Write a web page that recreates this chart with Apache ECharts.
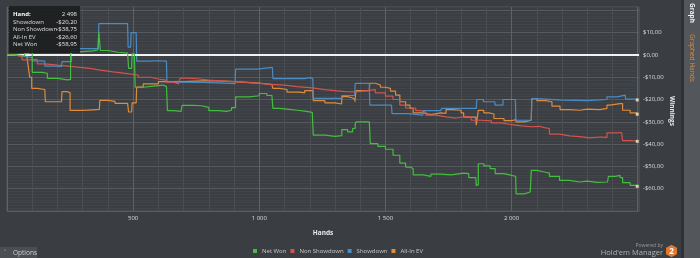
<!DOCTYPE html>
<html><head><meta charset="utf-8">
<script src="https://cdn.jsdelivr.net/npm/echarts@6/dist/echarts.min.js"></script>
<style>html,body{margin:0;padding:0;background:#3a3d41;}#c{width:700px;height:258px;}</style>
</head><body><div id="c"></div>
<script>
const seriesNames = ['Net Won', 'Non Showdown', 'Showdown', 'All-In EV'];
const xTickLabels = [500, 1000, 1500, 2000];
const yTickLabels = [10, 0, -10, -20, -30, -40, -50, -60];
const totalHands = 2498;

const netWonHands = [0,40,70,88,92,100,140,160,200,240,252,300,340,360,364,370,400,440,478,482,494,496,505,508,540,580,620,632,636,660,690,694,740,770,800,840,870,890,906,960,1000,1030,1050,1054,1080,1110,1150,1180,1210,1214,1260,1300,1327,1350,1370,1380,1384,1436,1440,1470,1500,1530,1557,1580,1600,1610,1650,1680,1720,1760,1810,1830,1858,1860,1865,1868,1890,1915,1935,1970,2000,2016,2018,2050,2074,2078,2100,2130,2150,2190,2230,2270,2300,2340,2380,2384,2410,2430,2440,2470,2498];
const netWonValues = [0,-0.5,0.8,0.5,6.5,-7.8,-8.2,-10.5,-11.2,-11.0,1.5,1.8,2.2,2.5,10.2,2.0,1.2,0.8,0.5,-6.0,-6.5,0.5,0.3,-14.5,-14.0,-13.5,-14.2,-14.0,-25.0,-25.3,-24.8,-22.6,-22.8,-23.5,-25.0,-25.3,-24.8,-23.6,-18.8,-18.3,-17.3,-18.2,-19.0,-24.0,-24.3,-24.8,-25.2,-25.8,-26.6,-36.0,-36.5,-36.2,-33.5,-34.5,-33.0,-31.0,-30.0,-30.2,-39.8,-41.0,-42.3,-45.0,-48.5,-50.3,-51.0,-53.8,-54.5,-53.5,-53.8,-53.0,-53.2,-55.0,-55.2,-58.5,-58.3,-48.8,-49.8,-51.0,-53.2,-54.0,-54.4,-54.5,-62.3,-61.5,-61.0,-51.8,-52.5,-53.0,-54.5,-56.3,-57.0,-56.6,-57.2,-57.0,-56.8,-54.5,-54.0,-55.0,-57.3,-58.5,-58.95];

const nonShowdownHands = [0,30,60,90,120,150,200,240,280,330,370,420,470,520,570,600,630,660,680,686,720,764,800,840,900,960,1000,1050,1100,1150,1210,1260,1300,1340,1380,1430,1460,1500,1530,1557,1580,1620,1640,1660,1700,1740,1780,1820,1840,1880,1920,1960,2000,2040,2080,2112,2130,2150,2190,2230,2270,2310,2350,2378,2420,2436,2440,2470,2498];
const nonShowdownValues = [0,-0.8,-2.2,-2.0,-4.0,-4.6,-5.0,-5.5,-6.0,-6.8,-7.6,-8.3,-9.0,-10.0,-10.8,-11.3,-12.2,-13.0,-13.5,-10.4,-10.8,-11.3,-11.6,-12.0,-12.4,-12.8,-13.2,-13.5,-14.2,-14.8,-15.6,-16.0,-16.5,-16.6,-16.0,-15.6,-17.0,-18.5,-20.0,-22.5,-23.8,-25.0,-25.7,-27.0,-27.8,-28.3,-27.6,-27.8,-29.3,-29.6,-30.5,-31.3,-31.8,-32.2,-32.0,-32.6,-33.0,-35.5,-36.3,-36.6,-37.2,-36.8,-37.0,-35.0,-34.8,-35.2,-38.4,-38.6,-38.75];

const showdownHands = [0,40,70,88,100,140,150,200,216,218,255,257,362,364,478,480,490,492,512,514,560,600,632,634,700,780,860,904,906,960,990,1052,1054,1160,1180,1200,1212,1214,1325,1327,1378,1380,1436,1438,1524,1526,1557,1590,1648,1650,1720,1722,1860,1862,1888,1934,1966,2015,2017,2078,2080,2100,2200,2300,2350,2378,2420,2424,2450,2452,2498];
const showdownValues = [0,-0.5,-1.0,-1.2,-2.7,-2.9,-5.0,-5.3,-5.2,-3.0,-3.0,2.8,2.8,14.0,14.0,3.5,3.5,10.0,10.0,-2.8,-2.6,-2.8,-2.8,-12.2,-12.3,-12.6,-12.9,-12.9,-6.4,-6.4,-5.6,-5.6,-10.6,-10.6,-10.2,-10.6,-10.6,-19.5,-19.5,-18.2,-18.2,-12.8,-12.8,-22.5,-22.5,-26.3,-26.3,-27.0,-27.0,-25.0,-25.0,-24.0,-24.0,-20.0,-21.0,-22.5,-20.0,-20.0,-29.3,-29.3,-19.6,-20.3,-20.5,-20.2,-20.0,-18.8,-18.8,-18.0,-18.0,-19.8,-20.2];

const allInEVHands = [0,40,78,84,90,98,120,150,152,200,216,218,240,250,300,340,366,368,400,428,478,482,494,496,512,514,540,600,700,800,900,1000,1050,1054,1080,1110,1160,1180,1212,1214,1260,1300,1326,1328,1350,1370,1379,1383,1436,1438,1460,1480,1500,1520,1540,1557,1580,1597,1610,1650,1680,1720,1740,1765,1800,1810,1858,1860,1866,1868,1890,1910,1930,1970,2000,2016,2018,2050,2078,2080,2100,2136,2160,2192,2230,2270,2300,2350,2378,2390,2430,2440,2470,2498];
const allInEVValues = [0,-0.3,-1.0,-5.0,-10.0,-15.0,-15.5,-16.2,-21.0,-21.0,-20.8,-16.5,-17.0,-24.9,-24.6,-24.4,-24.5,-20.4,-20.8,-21.7,-21.7,-25.6,-25.6,-21.5,-21.5,-14.4,-13.0,-12.0,-11.5,-12.0,-12.6,-13.3,-13.6,-15.0,-15.5,-16.7,-17.0,-16.0,-16.2,-20.5,-21.5,-22.0,-21.8,-18.7,-19.3,-20.0,-21.0,-16.0,-16.0,-12.7,-13.5,-14.5,-15.0,-16.2,-18.0,-21.0,-22.5,-24.0,-26.0,-26.8,-26.0,-26.2,-24.5,-24.8,-26.0,-27.9,-27.9,-31.5,-31.5,-24.9,-26.0,-26.5,-28.5,-29.5,-29.0,-29.2,-30.0,-29.3,-30.0,-19.6,-20.5,-21.0,-23.0,-24.5,-24.8,-24.3,-24.5,-24.0,-22.5,-21.8,-21.8,-24.8,-26.0,-26.6];

const colors = {'Net Won':'#43bf3f','Non Showdown':'#d4534e','Showdown':'#4a8cc6','All-In EV':'#e08b3a'};
const FONT = '"Open Sans", "Noto Sans", sans-serif';

function pair(h, v){ return h.map((x,i)=>[x, v[i]]); }
function money(v){ return (v<0?'-':'') + '$' + Math.abs(v).toFixed(2).replace('.', ','); }
function thousands(v){ return v>=1000 ? Math.floor(v/1000)+' '+String(v%1000).padStart(3,'0') : String(v); }
const last = a => a[a.length-1];

const chart = echarts.init(document.getElementById('c'), null, {renderer:'canvas'});

function lineSeries(name, h, v, z){
  return {name, type:'line', step:'end', data:pair(h,v), symbol:'none', z,
    lineStyle:{color:colors[name], width:1.2}, itemStyle:{color:colors[name]}, animation:false};
}

const green = lineSeries('Net Won', netWonHands, netWonValues, 6);
green.markLine = {silent:true, symbol:'none', label:{show:false}, animation:false,
  lineStyle:{color:'#f2f2f2', width:2, type:'solid'}, data:[{yAxis:0}]};

const tipRows = [
  ['Hand:', thousands(totalHands)],
  ['Showdown', money(last(showdownValues))],
  ['Non Showdown', money(last(nonShowdownValues))],
  ['All-In EV', money(last(allInEVValues))],
  ['Net Won', money(last(netWonValues))]
];
const tipY = [14, 21.8, 29.4, 37, 44.6];
const T = (x, y, text, fill, font, align, extra) => Object.assign({type:'text', x, y, z:101,
  style:{text, fill, font, textAlign:align, align, textVerticalAlign:'middle', verticalAlign:'middle'}}, extra||{});
const graphics = [
  {type:'rect', x:9, y:6, z:100, shape:{width:71, height:47}, style:{fill:'rgba(26,28,30,0.88)'}},
];
tipRows.forEach((r,i)=>{
  graphics.push(T(13, tipY[i], r[0], i===0?'#ffffff':'#dcdcdc', (i===0?'bold ':'')+'6px '+FONT, 'left'));
  graphics.push(T(77, tipY[i], r[1], '#e6e6e6', '6px '+FONT, 'right'));
});
// axis name on the right
graphics.push(T(672, 96, 'Winnings', '#e8e8e8', 'bold 6.5px '+FONT, 'left', {rotation:-Math.PI/2, z:60}));
// right side panel
graphics.push({type:'rect', x:681, y:0, z:50, shape:{width:3, height:258}, style:{fill:'#2f3134'}});
graphics.push({type:'rect', x:684, y:0, z:50, shape:{width:16, height:258}, style:{fill:'#53565a'}});
graphics.push(T(692, 3, 'Graph', '#f0f0f0', 'bold 6.5px '+FONT, 'left', {rotation:-Math.PI/2, z:51}));
graphics.push(T(692, 34, 'Graphed Hands', '#e08b3a', '6.5px '+FONT, 'left', {rotation:-Math.PI/2, z:51}));
// options tab
graphics.push({type:'rect', x:0, y:247, z:50, shape:{width:37, height:11}, style:{fill:'#4b4e52'}});
graphics.push(T(4, 253, '\u02C4', '#cfcfcf', '7px '+FONT, 'left', {z:51}));
graphics.push(T(13, 253, 'Options', '#cfcfcf', '6.5px '+FONT, 'left', {z:51}));
// powered by
graphics.push(T(663, 246, 'Powered by', '#9a9a9a', '5px '+FONT, 'right', {z:51}));
graphics.push(T(663, 252.5, "Hold'em Manager", '#b0b0b0', '7.5px '+FONT, 'right', {z:51}));
const hx = 671.5, hy = 251, hr = 6.3;
const hexPts = [];
for (let k=0;k<6;k++){ const a = Math.PI/180*(60*k-90); hexPts.push([hx+hr*Math.cos(a), hy+hr*Math.sin(a)]); }
graphics.push({type:'polygon', z:51, shape:{points:hexPts}, style:{fill:'#e07a30'}});
graphics.push(T(hx, hy+0.5, '2', '#ffffff', 'bold 8px '+FONT, 'center', {z:52}));

const endPoints = [
  [last(showdownHands), last(showdownValues)],
  [last(allInEVHands), last(allInEVValues)],
  [last(nonShowdownHands), last(nonShowdownValues)],
  [last(netWonHands), last(netWonValues)]
];

const xSplitColors = [];
for (let i=0;i<5;i++) xSplitColors.push(i===0 ? '#5e6266' : '#4a4e52');

chart.setOption({
  backgroundColor:'#3a3d41',
  animation:false,
  textStyle:{fontFamily:FONT},
  grid:{left:7, right:61, top:7, bottom:47, show:true, borderColor:'#55595d', borderWidth:1, backgroundColor:'#3b3e42'},
  legend:{data:seriesNames, left:253, top:248, icon:'rect', itemWidth:4, itemHeight:4, itemGap:4, padding:0,
    textStyle:{color:'#c8c8c8', fontSize:6, fontFamily:FONT}},
  xAxis:{type:'value', min:0, max:2505, interval:100,
    name:'Hands', nameLocation:'middle', nameGap:19,
    nameTextStyle:{color:'#e8e8e8', fontSize:6.5, fontWeight:'bold', fontFamily:FONT},
    axisLine:{show:false}, axisTick:{show:false},
    axisLabel:{color:'#dcdcdc', fontSize:6, margin:4, fontFamily:FONT,
      formatter:v=> xTickLabels.includes(v) ? thousands(v) : ''},
    splitLine:{show:true, lineStyle:{color:xSplitColors, width:1}}},
  yAxis:{type:'value', position:'right', min:-70, max:21.5, interval:10,
    axisLine:{show:false}, axisTick:{show:false},
    axisLabel:{color:'#dcdcdc', fontSize:6, margin:4, fontFamily:FONT,
      formatter:v=> yTickLabels.includes(v) ? money(v) : ''},
    splitLine:{show:true, lineStyle:{color:'#575b5f', width:1}},
    minorTick:{show:false, splitNumber:8},
    minorSplitLine:{show:true, lineStyle:{color:'#414448', width:1}}},
  series:[
    lineSeries('All-In EV', allInEVHands, allInEVValues, 3),
    lineSeries('Showdown', showdownHands, showdownValues, 4),
    lineSeries('Non Showdown', nonShowdownHands, nonShowdownValues, 5),
    green,
    {type:'scatter', data:endPoints, symbol:'rect', symbolSize:3, z:8, itemStyle:{color:'#f4eec4'}, silent:true, animation:false}
  ],
  graphic:graphics
});
</script>
</body></html>
